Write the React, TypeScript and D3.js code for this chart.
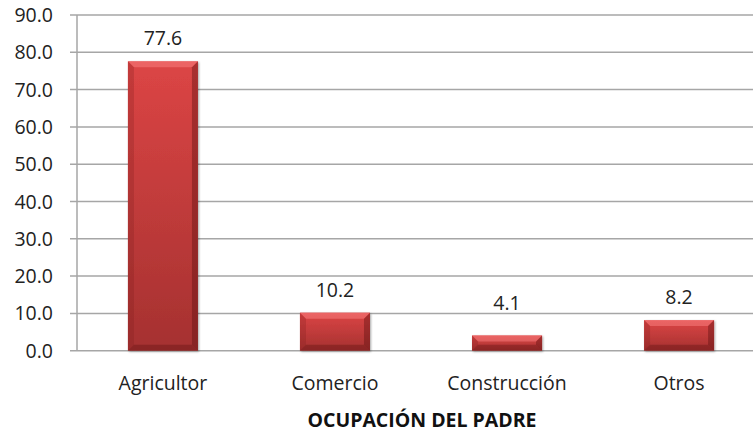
import React from "react";
import * as d3 from "d3";

const categories = ["Agricultor", "Comercio", "Construcción", "Otros"];
const values = [77.6, 10.2, 4.1, 8.2];
const yTicks = [0, 10, 20, 30, 40, 50, 60, 70, 80, 90];
const axisTitle = "OCUPACIÓN DEL PADRE";

const W = 753;
const H = 431;
const FONT = "'Open Sans', Lato, sans-serif";

export default function App() {
  const x = d3.scaleBand<string>().domain(categories).range([77, 765]).paddingInner(0.593).paddingOuter(0.296);
  const y = d3.scaleLinear().domain([0, 90]).range([350.7, 15]);
  const bw = x.bandwidth();
  const b = 6;
  return (
    <div style={{ position: "fixed", left: 0, top: 0, width: W, height: H, overflow: "hidden" }}>
      <svg width={W} height={H} style={{ display: "block", background: "#fff" }}>
        <defs>
          <linearGradient id="barg" x1="0" y1="0" x2="0" y2="1">
            <stop offset="0" stopColor="#dc4545" />
            <stop offset="1" stopColor="#a53130" />
          </linearGradient>
          <filter id="sh" x="-20%" y="-20%" width="140%" height="140%">
            <feDropShadow dx="1" dy="1" stdDeviation="1.2" floodColor="#000" floodOpacity="0.35" />
          </filter>
        </defs>
        {yTicks.map((t) => (
          <g key={t}>
            <line x1={70} x2={W} y1={y(t)} y2={y(t)} stroke="#a6a6a6" strokeWidth={1.5} />
            <text x={53} y={y(t)} dy="0.36em" textAnchor="end" fontFamily={FONT} fontSize={19.5} fill="#222">
              {t.toFixed(1)}
            </text>
          </g>
        ))}
        <line x1={77} x2={77} y1={y(90)} y2={y(0)} stroke="#a6a6a6" strokeWidth={1.5} />
        {categories.map((c, i) => {
          const x0 = x(c)!;
          const x1 = x0 + bw;
          const y0 = y(values[i]);
          const y1 = y(0);
          const bb = Math.min(b, (y1 - y0) / 2);
          const labelY = Math.min(y0 - 16, y(0) - 41);
          return (
            <g key={c}>
              <rect x={x0} y={y0} width={bw} height={y1 - y0} fill="url(#barg)" filter="url(#sh)" />
              <polygon points={`${x0},${y0} ${x1},${y0} ${x1 - bb},${y0 + bb} ${x0 + bb},${y0 + bb}`} fill="#ff8a8a" opacity={0.45} />
              <polygon points={`${x0},${y0} ${x0 + bb},${y0 + bb} ${x0 + bb},${y1 - bb} ${x0},${y1}`} fill="#7a1a1a" opacity={0.25} />
              <polygon points={`${x1},${y0} ${x1 - bb},${y0 + bb} ${x1 - bb},${y1 - bb} ${x1},${y1}`} fill="#5a0f0f" opacity={0.4} />
              <polygon points={`${x0},${y1} ${x0 + bb},${y1 - bb} ${x1 - bb},${y1 - bb} ${x1},${y1}`} fill="#5a0f0f" opacity={0.35} />
              <text x={x0 + bw / 2} y={labelY} textAnchor="middle" fontFamily={FONT} fontSize={19.5} fill="#222">
                {values[i].toFixed(1)}
              </text>
              <text x={x0 + bw / 2} y={390} textAnchor="middle" fontFamily={FONT} fontSize={19.5} fill="#222">
                {c}
              </text>
            </g>
          );
        })}
        <text x={422} y={426.5} textAnchor="middle" fontFamily={FONT} fontSize={19.5} fontWeight="bold" fill="#111">
          {axisTitle}
        </text>
      </svg>
    </div>
  );
}
